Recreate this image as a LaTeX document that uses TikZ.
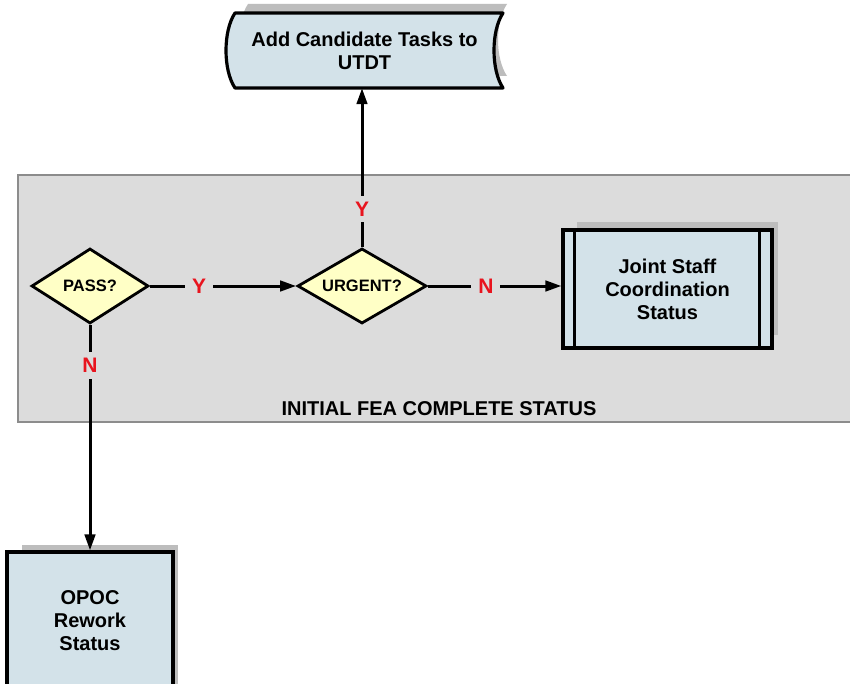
\documentclass[tikz,border=0pt]{standalone}
\usepackage{fontspec}
\setmainfont{Liberation Sans}
\usetikzlibrary{shapes.geometric,arrows.meta}
\definecolor{panelfill}{HTML}{DCDCDC}
\definecolor{panelline}{HTML}{8C8C8C}
\definecolor{boxfill}{HTML}{D3E2E9}
\definecolor{decfill}{HTML}{FFFFC6}
\definecolor{shadowgray}{HTML}{BDBDBD}
\definecolor{labelred}{HTML}{E8141E}

\begin{document}
\begin{tikzpicture}[x=1pt,y=-1pt,
  font=\bfseries\fontsize{20}{23}\selectfont,
  procbox/.style={draw=black, line width=3.2pt, fill=boxfill, align=center, inner sep=0pt},
  decision/.style={diamond, shape aspect=1.6, draw=black, line width=2.8pt, fill=decfill,
    inner sep=0pt, font=\bfseries\fontsize{16.5}{19}\selectfont},
  flow/.style={line width=3pt, -{Triangle[length=16pt,width=10.5pt]}},
  answer/.style={text=labelred, fill=panelfill, inner xsep=7pt, inner ysep=6pt,
    font=\bfseries\fontsize{21}{21}\selectfont},
  shade/.style={fill=shadowgray, draw=none}]

\clip (0,0) rectangle (850,684);
\fill[white] (0,0) rectangle (850,684);

% status panel
\draw[panelline, fill=panelfill, line width=1.5pt] (18,175) rectangle (870,422);
\node[anchor=base] (status) at (439,415) {INITIAL FEA COMPLETE STATUS};

% stored-data shape with its shadow
\fill[shadowgray] (248,4) -- (507,4) .. controls (495,22) and (495,58) .. (507,76)
  -- (248,76) .. controls (236,58) and (236,22) .. (248,4) -- cycle;
\draw[draw=black, line width=3.2pt, fill=boxfill, line join=round]
  (235,13) -- (503,13) .. controls (491,31) and (491,70) .. (503,88)
  -- (235,88) .. controls (223,70) and (223,31) .. (235,13) -- cycle;
\node[align=center, minimum width=277, minimum height=75, inner sep=0pt]
  (tasks) at (364.5,50.5) {Add Candidate Tasks to\\UTDT};

% joint staff predefined process
\fill[shadowgray] (577,222) rectangle (778,335);
\node[procbox, minimum width=209, minimum height=118] (joint) at (667.5,289)
  {Joint Staff\\Coordination\\Status};
\draw[line width=3.2pt] ([xshift=13pt]joint.north west) -- ([xshift=13pt]joint.south west);
\draw[line width=3.2pt] ([xshift=-14pt]joint.north east) -- ([xshift=-14pt]joint.south east);

% rework box
\fill[shadowgray] (22,545) rectangle (178,690);
\node[procbox, minimum width=166, minimum height=138] (opoc) at (90,621)
  {OPOC\\Rework\\Status};

% decisions
\node[decision, minimum width=117, minimum height=75] (pass) at (90,286) {PASS?};
\node[decision, minimum width=129, minimum height=75] (urgent) at (362,286) {URGENT?};

% connectors
\draw[flow] (pass) -- node[answer, pos=0.336] {Y} (urgent);
\draw[flow] (urgent.east) -- node[answer, pos=0.434] {N} (urgent.east -| joint.west);
\draw[flow] (urgent.north) -- node[answer, pos=0.24] {Y} (urgent.north |- tasks.south);
\draw[flow] (pass.south) -- node[answer, pos=0.18] {N} (opoc.north);
\end{tikzpicture}
\end{document}
